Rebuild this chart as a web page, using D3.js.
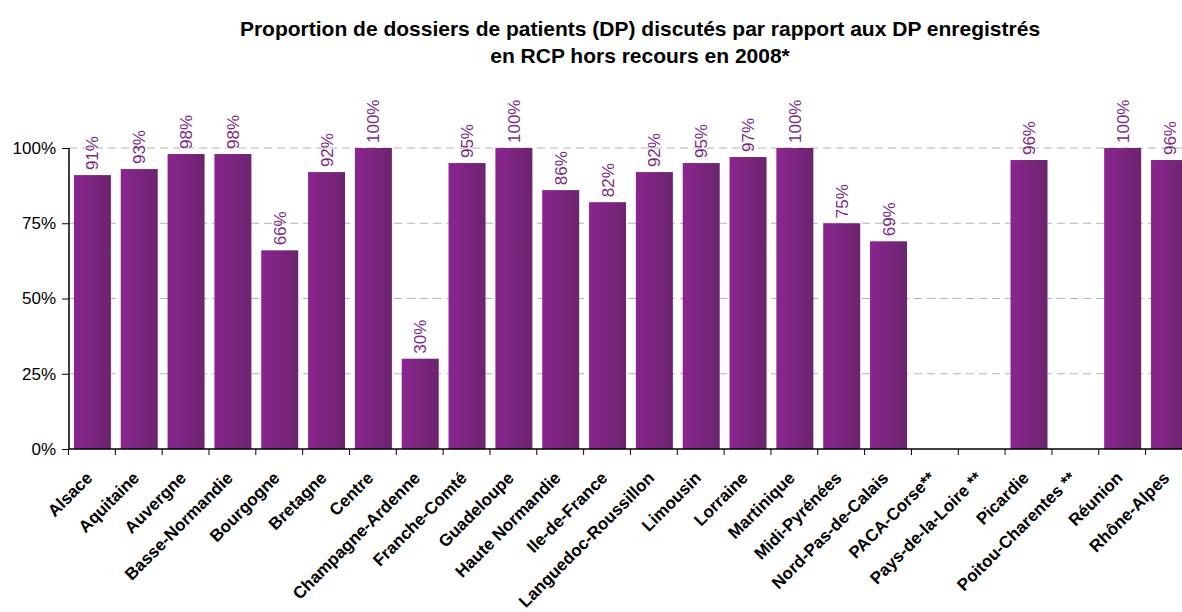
<!DOCTYPE html>
<html lang="fr">
<head>
<meta charset="utf-8">
<title>Proportion de DP discutés</title>
<script src="https://cdn.jsdelivr.net/npm/d3@7"></script>
<style>
  body { margin: 0; background: #fff; font-family: 'Liberation Sans', Arial, sans-serif; }
  svg { display: block; }
  .title { font-size: 21px; font-weight: bold; fill: #000; }
  .yaxis text { font-size: 17px; fill: #000; }
  .xaxis text { font-size: 17px; font-weight: bold; fill: #000; }
  .domain, .tick line { stroke: #000; }
  .grid line { stroke: #b4b4b4; stroke-dasharray: 8 5; }
  .value { font-size: 17px; fill: #7d2a85; }
</style>
</head>
<body>
<svg width="1182" height="612"></svg>
<script>
// regions (x categories)
var regions = ['Alsace', 'Aquitaine', 'Auvergne', 'Basse-Normandie', 'Bourgogne', 'Bretagne', 'Centre',
  'Champagne-Ardenne', 'Franche-Comté', 'Guadeloupe', 'Haute Normandie', 'Ile-de-France',
  'Languedoc-Roussillon', 'Limousin', 'Lorraine', 'Martinique', 'Midi-Pyrénées', 'Nord-Pas-de-Calais',
  'PACA-Corse**', 'Pays-de-la-Loire **', 'Picardie', 'Poitou-Charentes **', 'Réunion', 'Rhône-Alpes'];
// % of DP discussed (null = no data)
var percents = [91, 93, 98, 98, 66, 92, 100, 30, 95, 100, 86, 82, 92, 95, 97, 100, 75, 69,
  null, null, 96, null, 100, 96];
var yTicks = [0, 25, 50, 75, 100];
var titleLines = ['Proportion de dossiers de patients (DP) discutés par rapport aux DP enregistrés',
  'en RCP hors recours en 2008*'];

var svg = d3.select('svg');
var plotLeft = 69, plotTop = 148, plotH = 301;
var step = 46.83;

var x = d3.scaleBand()
  .domain(regions)
  .range([plotLeft, plotLeft + step * regions.length])
  .paddingInner(0.21)
  .paddingOuter(0.105);

var y = d3.scaleLinear()
  .domain([0, 100])
  .range([plotTop + plotH, plotTop]);

// gradient on bars
var grad = svg.append('defs').append('linearGradient')
  .attr('id', 'barGrad')
  .attr('x1', '0%').attr('x2', '100%').attr('y1', '0%').attr('y2', '0%');
grad.append('stop').attr('offset', '0%').attr('stop-color', '#8a2590');
grad.append('stop').attr('offset', '100%').attr('stop-color', '#6c246e');

// title
svg.selectAll('.title')
  .data(titleLines)
  .enter()
  .append('text')
  .attr('class', 'title')
  .attr('x', 640)
  .attr('y', (d, i) => 36 + i * 27)
  .attr('text-anchor', 'middle')
  .text(d => d);

// grid lines
svg.append('g')
  .attr('class', 'grid')
  .selectAll('line')
  .data(yTicks.filter(d => d > 0))
  .enter()
  .append('line')
  .attr('x1', plotLeft)
  .attr('x2', 1182)
  .attr('y1', d => y(d))
  .attr('y2', d => y(d));

// bars
var data = regions.map((r, i) => ({ region: r, value: percents[i] })).filter(d => d.value !== null);

svg.append('g')
  .selectAll('rect')
  .data(data)
  .enter()
  .append('rect')
  .attr('x', d => x(d.region))
  .attr('y', d => y(d.value))
  .attr('width', x.bandwidth())
  .attr('height', d => y(0) - y(d.value))
  .attr('fill', 'url(#barGrad)');

// value labels
svg.append('g')
  .selectAll('text')
  .data(data)
  .enter()
  .append('text')
  .attr('class', 'value')
  .attr('transform', d => `translate(${x(d.region) + x.bandwidth() / 2 + 6},${y(d.value) - 5}) rotate(-90)`)
  .text(d => d.value + '%');

// y axis
var yAxis = svg.append('g')
  .attr('class', 'yaxis')
  .attr('transform', `translate(${plotLeft},0)`)
  .call(d3.axisLeft(y).tickValues(yTicks).tickFormat(d => d + '%').tickSize(7).tickPadding(6));
yAxis.select('.domain').attr('d', `M0,${plotTop}V${plotTop + plotH}`).attr('stroke', '#777').attr('stroke-width', 1.5);

// x axis with ticks at category boundaries
var xAxis = svg.append('g')
  .attr('class', 'xaxis')
  .attr('transform', `translate(0,${plotTop + plotH})`);
xAxis.append('line')
  .attr('x1', plotLeft).attr('x2', 1182)
  .attr('y1', 0).attr('y2', 0)
  .attr('stroke', '#000').attr('stroke-width', 1.5);
xAxis.selectAll('.btick')
  .data(regions)
  .enter()
  .append('line')
  .attr('class', 'btick')
  .attr('x1', d => x(d) - x.step() * x.paddingInner() / 2 - 0.5)
  .attr('x2', d => x(d) - x.step() * x.paddingInner() / 2 - 0.5)
  .attr('y1', 0).attr('y2', 6)
  .attr('stroke', '#000');
xAxis.selectAll('.lbl')
  .data(regions)
  .enter()
  .append('text')
  .attr('class', 'lbl')
  .attr('text-anchor', 'end')
  .attr('transform', d => `translate(${x(d) + x.bandwidth() / 2 + 1},${30}) rotate(-45)`)
  .text(d => d);
</script>
</body>
</html>
